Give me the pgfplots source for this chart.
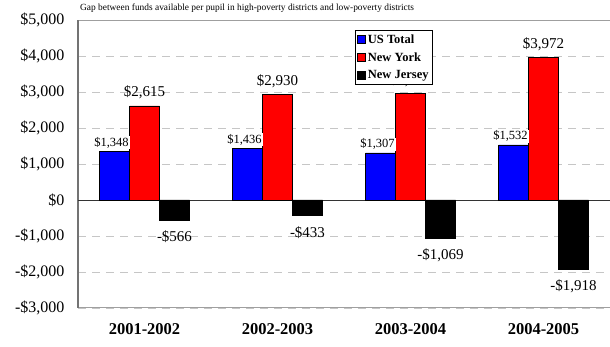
\documentclass[border=0pt]{standalone}
\usepackage{fontspec}
\setmainfont{Liberation Serif}
\usepackage{pgfplots}
\pgfplotsset{compat=1.18}
\definecolor{barblue}{RGB}{0,0,255}
\definecolor{barred}{RGB}{255,0,0}
\pgfplotsset{sqlegend/.style={legend image code/.code={\draw[##1,draw=black,line width=0.6pt] (0pt,-4pt) rectangle (8pt,4pt);}}}
\begin{document}
\begin{tikzpicture}
\begin{axis}[
  at={(78pt,39pt)}, anchor=south west,
  scale only axis, width=532pt, height=288pt,
  xmin=-0.5, xmax=3.5, ymin=-3000, ymax=5000,
  ybar=0pt, bar width=30pt,
  axis x line=box, axis y line=left,
  x axis line style={-, draw=gray!75, line width=1pt},
  y axis line style={-, draw=gray!90!black, line width=1.3pt},
  major tick length=0pt,
  xtick={0,1,2,3},
  xticklabels={2001-2002,2002-2003,2003-2004,2004-2005},
  xticklabel style={font=\bfseries\fontsize{16.5}{16.5}\selectfont, yshift=-12pt},
  ytick={-3000,-2000,...,5000},
  yticklabels={{-\$3,000},{-\$2,000},{-\$1,000},{\$0},{\$1,000},{\$2,000},{\$3,000},{\$4,000},{\$5,000}},
  yticklabel style={font=\fontsize{16}{16}\selectfont, xshift=-10pt},
  ymajorgrids,
  grid style={draw=gray!45, line width=0.8pt, dash pattern=on 8pt off 6pt},
  extra y ticks={0}, extra y tick labels={},
  extra y tick style={grid=major, major grid style={draw=black!80, solid, line width=0.8pt}},
  point meta=explicit symbolic,
  nodes near coords={\pgfplotspointmeta},
  legend style={at={(0.5207,0.965)}, anchor=north west, draw=black, line width=0.6pt,
    font=\bfseries\fontsize{12.5}{12.5}\selectfont, row sep=4pt, inner sep=2pt,
    legend cell align=left},
]
\addplot[fill=barblue, draw=black, line width=0.6pt, sqlegend,
  nodes near coords align={above},
  every node near coord/.append style={font=\fontsize{12.5}{12.5}\selectfont, fill=white, inner sep=1pt, xshift=-3pt, yshift=2pt, text=black}]
  coordinates {(0,1348) [\$1,348] (1,1436) [\$1,436] (2,1307) [\$1,307] (3,1532) [\$1,532]};
\addlegendentry{US Total}
\addplot[fill=barred, draw=black, line width=0.6pt, sqlegend,
  nodes near coords align={above},
  every node near coord/.append style={font=\fontsize{15}{15}\selectfont, yshift=3pt, text=black}]
  coordinates {(0,2615) [\$2,615] (1,2930) [\$2,930] (2,2960) [\$2,960] (3,3972) [\$3,972]};
\addlegendentry{New York}
\addplot[fill=black, draw=black, line width=0.6pt, sqlegend,
  nodes near coords align={below},
  every node near coord/.append style={font=\fontsize{15}{15}\selectfont, yshift=-7pt, text=black}]
  coordinates {(0,-566) [-\$566] (1,-433) [-\$433] (2,-1069) [-\$1,069] (3,-1918) [-\$1,918]};
\addlegendentry{New Jersey}
\end{axis}
\node[anchor=west, font=\fontsize{9.4}{9.4}\selectfont, inner sep=0pt] at (80pt,339pt) {Gap between funds available per pupil in high-poverty districts and low-poverty districts};
\pgfresetboundingbox
\useasboundingbox (0,0) rectangle (610pt,347pt);
\end{tikzpicture}
\end{document}
